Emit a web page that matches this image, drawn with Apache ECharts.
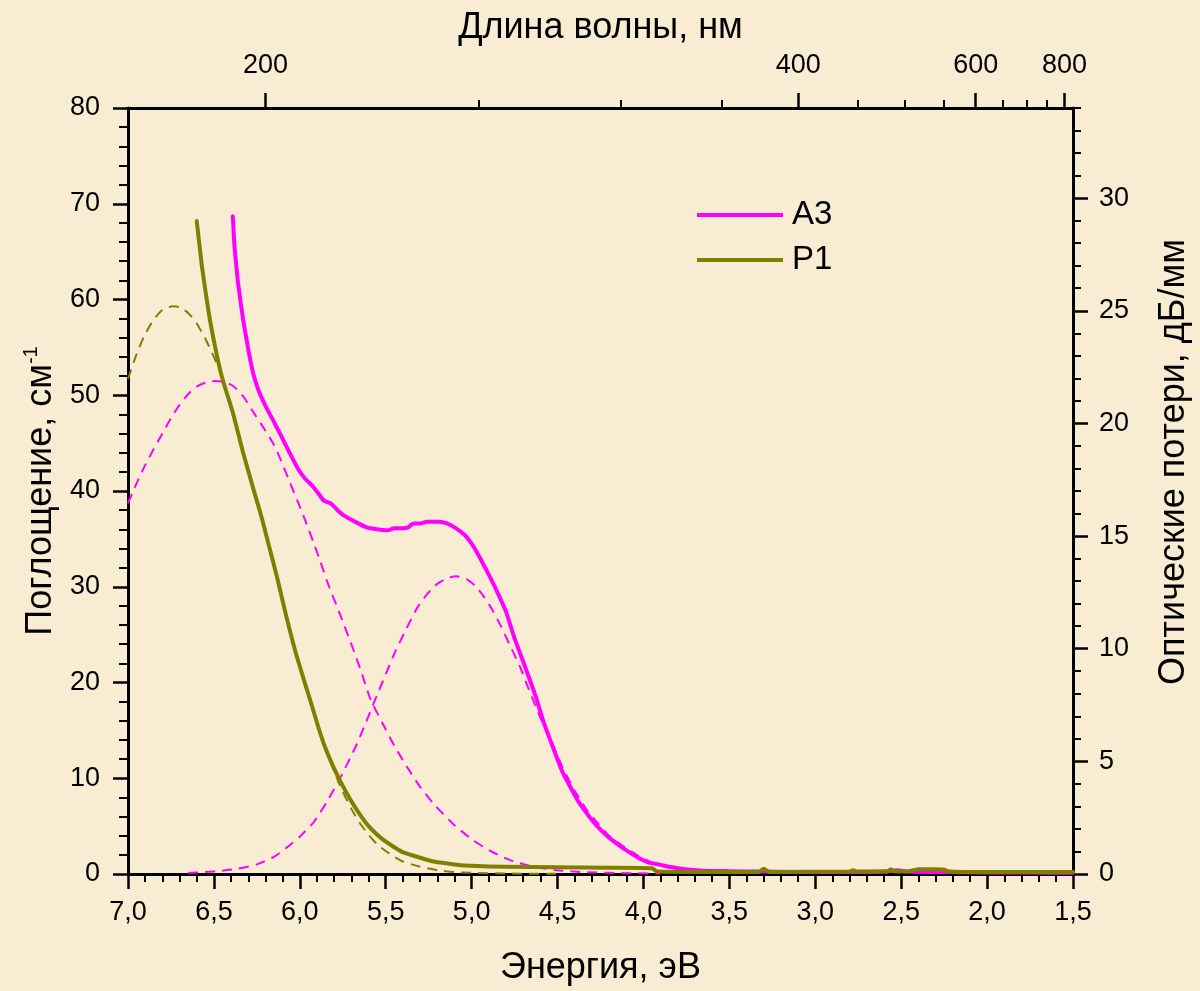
<!DOCTYPE html>
<html><head><meta charset="utf-8">
<script src="https://cdn.jsdelivr.net/npm/echarts@6/dist/echarts.min.js"></script>
<style>html,body{margin:0;padding:0;background:#f8edd2;overflow:hidden;} #c{width:1200px;height:991px;}</style>
</head><body><div id="c"></div>
<script>
// ---- data (energy eV, absorption cm^-1) ----
const a3Data = [[6.39,68.7],[6.38,65.5],[6.36,61.8],[6.33,57.9],[6.30,54.8],[6.27,52.2],[6.24,50.5],[6.20,48.9],[6.15,47.2],[6.11,45.8],[6.06,44.0],[6.01,42.3],[5.97,41.3],[5.93,40.6],[5.89,39.7],[5.86,39.0],[5.82,38.7],[5.78,38.0],[5.74,37.4],[5.68,36.8],[5.61,36.2],[5.55,36.0],[5.49,35.9],[5.45,36.1],[5.40,36.1],[5.37,36.2],[5.34,36.6],[5.30,36.6],[5.26,36.8],[5.19,36.8],[5.14,36.6],[5.09,36.1],[5.04,35.4],[5.00,34.5],[4.96,33.3],[4.91,31.6],[4.86,29.8],[4.80,27.4],[4.75,24.6],[4.69,21.7],[4.63,18.7],[4.58,15.8],[4.52,12.9],[4.47,10.6],[4.42,8.9],[4.38,7.6],[4.32,6.1],[4.27,5.0],[4.20,3.8],[4.11,2.6],[4.03,1.7],[3.97,1.2],[3.94,1.1],[3.90,0.95],[3.85,0.75],[3.76,0.5],[3.65,0.35],[3.50,0.3],[3.30,0.25],[3.00,0.2],[2.80,0.2],[2.60,0.25],[2.52,0.4],[2.47,0.25],[2.30,0.2],[2.00,0.15],[1.75,0.15],[1.50,0.12]];
const p1Data = [[6.60,68.2],[6.57,63.5],[6.53,58.6],[6.49,54.8],[6.45,51.7],[6.39,48.2],[6.33,44.0],[6.27,40.2],[6.22,37.1],[6.18,34.3],[6.13,30.8],[6.08,27.0],[6.03,23.5],[5.98,20.5],[5.93,17.6],[5.89,15.2],[5.85,13.1],[5.80,11.0],[5.75,9.2],[5.70,7.6],[5.65,6.2],[5.60,5.0],[5.53,3.8],[5.45,2.8],[5.39,2.2],[5.30,1.7],[5.22,1.3],[5.10,1.0],[5.00,0.85],[4.80,0.75],[4.50,0.7],[4.20,0.65],[3.95,0.6],[3.92,0.25],[3.50,0.2],[3.33,0.22],[3.30,0.55],[3.27,0.22],[2.80,0.25],[2.78,0.4],[2.76,0.25],[2.58,0.25],[2.56,0.5],[2.54,0.25],[2.45,0.3],[2.40,0.5],[2.32,0.5],[2.25,0.45],[2.22,0.25],[2.00,0.2],[1.50,0.2]];
const p1Fit = [[7.00,51.7],[6.95,54.3],[6.90,56.4],[6.85,57.9],[6.80,58.9],[6.74,59.3],[6.70,59.2],[6.65,58.6],[6.60,57.5],[6.55,55.9],[6.50,54.0],[6.45,51.7],[6.40,48.8],[6.35,45.3],[6.30,42.0],[6.25,38.8],[6.20,35.6],[6.15,32.1],[6.10,28.4],[6.05,24.9],[6.00,21.6],[5.95,18.6],[5.90,15.7],[5.85,13.0],[5.80,10.7],[5.75,8.6],[5.70,6.8],[5.65,5.3],[5.60,4.1],[5.55,3.1],[5.50,2.4],[5.45,1.8],[5.40,1.3],[5.30,0.75],[5.20,0.4],[5.10,0.2],[5.00,0.12],[4.80,0.05],[4.50,0.02]];
const a3Fit1 = [[7.00,38.7],[6.95,40.8],[6.90,42.7],[6.85,44.4],[6.80,46.0],[6.75,47.6],[6.70,49.0],[6.65,50.1],[6.60,50.9],[6.55,51.3],[6.49,51.5],[6.44,51.4],[6.39,51.0],[6.33,49.9],[6.28,48.5],[6.20,46.3],[6.15,44.8],[6.11,43.2],[6.06,41.0],[6.01,38.8],[5.97,37.0],[5.92,34.6],[5.88,32.6],[5.84,30.5],[5.77,27.3],[5.70,24.0],[5.64,21.0],[5.59,18.3],[5.52,15.8],[5.45,13.4],[5.38,11.3],[5.30,9.1],[5.21,7.1],[5.10,5.1],[4.99,3.5],[4.88,2.3],[4.77,1.4],[4.65,0.8],[4.51,0.4],[4.35,0.2],[4.15,0.1],[3.90,0.05]];
const a3Fit2 = [[6.65,0.1],[6.55,0.2],[6.45,0.35],[6.36,0.55],[6.25,1.0],[6.15,1.8],[6.08,2.7],[6.00,3.9],[5.92,5.4],[5.84,7.6],[5.76,10.2],[5.67,13.5],[5.60,16.5],[5.55,18.7],[5.49,21.3],[5.44,23.4],[5.38,25.6],[5.32,27.7],[5.26,29.2],[5.20,30.3],[5.14,30.9],[5.09,31.1],[5.03,30.8],[4.98,30.1],[4.93,29.0],[4.88,27.6],[4.83,25.9],[4.78,24.0],[4.72,21.7],[4.67,19.4],[4.59,15.9],[4.53,13.6],[4.47,11.1],[4.40,8.7],[4.33,6.7],[4.27,5.4],[4.20,4.0],[4.11,2.8],[4.03,1.9],[3.95,1.2],[3.86,0.7],[3.76,0.4],[3.60,0.15],[3.40,0.05]];

// ---- axis ticks ----
const topMajorNm = [200, 400, 600, 800];
const topMinorNm = [250, 300, 350, 450, 500, 550, 650, 700, 750];
const rightMajor = [0, 5, 10, 15, 20, 25, 30];
const rightMinor = [1,2,3,4,6,7,8,9,11,12,13,14,16,17,18,19,21,22,23,24,26,27,28,29,31,32,33,34];
const HC = 1239.84;

const FONT = 'Liberation Sans, Arial, sans-serif';
const lineAx = {show: true, onZero: false, lineStyle: {color: '#000', width: 3}};
const tickStyle = {color: '#000', width: 2.5};
const minorStyle = {color: '#000', width: 2};
const labelStyle = {color: '#000', fontSize: 27, fontFamily: FONT};
const nameStyle = {color: '#000', fontSize: 36, fontFamily: FONT};

const chart = echarts.init(document.getElementById('c'), null, {renderer: 'canvas', width: 1200, height: 991});
chart.setOption({
  backgroundColor: '#f8edd2',
  animation: false,
  grid: {left: 128, top: 108, width: 956, height: 768, containLabel: false},
  legend: {
    data: ['A3', 'P1'], orient: 'vertical', left: 692, top: 193,
    itemWidth: 86, itemHeight: 4, itemGap: 11, icon: 'rect',
    textStyle: {color: '#000', fontSize: 33, fontFamily: FONT, padding: [0, 0, 0, 4], lineHeight: 34}
  },
  xAxis: [
    {type: 'value', position: 'bottom', min: 1.5, max: 7, interval: 0.5, inverse: true,
     axisLine: lineAx, splitLine: {show: false},
     axisTick: {show: true, length: 15, lineStyle: tickStyle},
     minorTick: {show: true, splitNumber: 5, length: 8, lineStyle: minorStyle},
     axisLabel: {...labelStyle, margin: 25, formatter: v => v.toFixed(1).replace('.', ',')},
     name: 'Энергия, эВ', nameLocation: 'middle', nameGap: 76, nameTextStyle: nameStyle},
    {type: 'value', position: 'top', min: 1.5, max: 7, inverse: true,
     axisLine: lineAx, splitLine: {show: false},
     axisTick: {show: true, length: 15, lineStyle: tickStyle, customValues: topMajorNm.map(n => HC / n)},
     axisLabel: {...labelStyle, margin: 29, customValues: topMajorNm.map(n => HC / n), formatter: v => String(Math.round(HC / v / 10) * 10)},
     name: 'Длина волны, нм', nameLocation: 'middle', nameGap: 62, nameTextStyle: nameStyle},
    {type: 'value', position: 'top', min: 1.5, max: 7, inverse: true,
     axisLine: {show: false, onZero: false}, splitLine: {show: false},
     axisTick: {show: true, length: 8, lineStyle: minorStyle, customValues: topMinorNm.map(n => HC / n)},
     axisLabel: {show: false}}
  ],
  yAxis: [
    {type: 'value', position: 'left', min: 0, max: 80, interval: 10,
     axisLine: lineAx, splitLine: {show: false},
     axisTick: {show: true, length: 15, lineStyle: tickStyle},
     minorTick: {show: true, splitNumber: 5, length: 9, lineStyle: minorStyle},
     axisLabel: {...labelStyle, margin: 28},
     name: 'Поглощение, см{sup|-1}', nameLocation: 'middle', nameGap: 60,
     nameTextStyle: {...nameStyle, rich: {sup: {fontSize: 20, fontFamily: FONT, color: '#000', padding: [0, 0, 20, 0]}}}},
    {type: 'value', position: 'right', min: 0, max: 34,
     axisLine: lineAx, splitLine: {show: false},
     axisTick: {show: true, length: 15, lineStyle: tickStyle, customValues: rightMajor},
     axisLabel: {...labelStyle, margin: 26, customValues: rightMajor},
     name: 'Оптические потери, дБ/мм', nameLocation: 'middle', nameGap: 83,
     nameTextStyle: {...nameStyle, padding: [0, 0, 0, 58]}},
    {type: 'value', position: 'right', min: 0, max: 34,
     axisLine: {show: false, onZero: false}, splitLine: {show: false},
     axisTick: {show: true, length: 8, lineStyle: minorStyle, customValues: rightMinor},
     axisLabel: {show: false}}
  ],
  series: [
    {name: 'A3 fit 1', type: 'line', data: a3Fit1, showSymbol: false, smooth: 0.2, z: 2,
     lineStyle: {color: '#ff00ff', width: 2, type: [10, 7]}},
    {name: 'A3 fit 2', type: 'line', data: a3Fit2, showSymbol: false, smooth: 0.2, z: 2,
     lineStyle: {color: '#ff00ff', width: 2, type: [10, 7]}},
    {name: 'P1 fit', type: 'line', data: p1Fit, showSymbol: false, smooth: 0.2, z: 2,
     lineStyle: {color: '#808000', width: 2, type: [10, 7]}},
    {name: 'A3', type: 'line', data: a3Data, showSymbol: false, smooth: 0.15, z: 3,
     itemStyle: {color: '#ff00ff'}, lineStyle: {color: '#ff00ff', width: 4, cap: 'round', join: 'round'}},
    {name: 'P1', type: 'line', data: p1Data, showSymbol: false, smooth: 0.15, z: 4,
     itemStyle: {color: '#808000'}, lineStyle: {color: '#808000', width: 4, cap: 'round', join: 'round'}}
  ]
});
</script></body></html>
